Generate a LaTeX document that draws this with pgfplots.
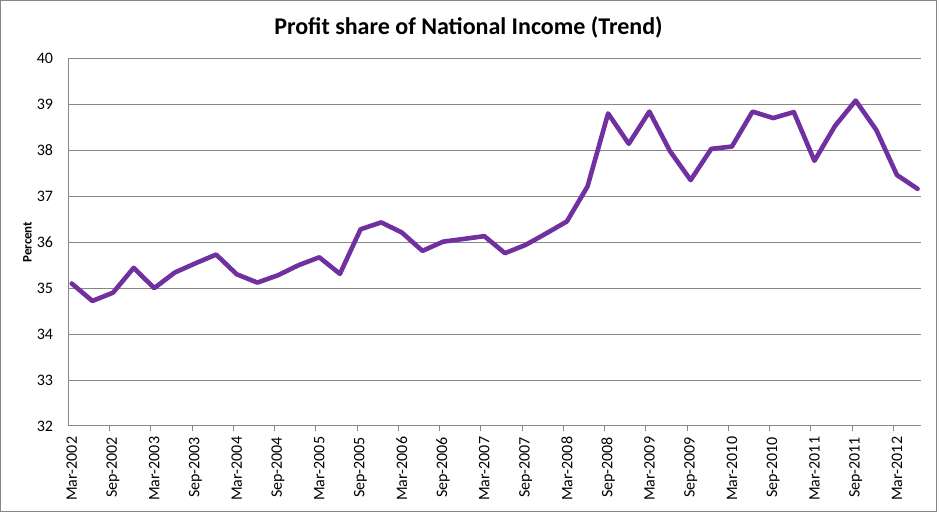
\documentclass[border=0pt]{standalone}
\usepackage{pgfplots}
\pgfplotsset{compat=1.18}
\usepackage{fontspec}
\setmainfont{Carlito}
\definecolor{linepurple}{HTML}{7030A0}
\definecolor{gridgray}{HTML}{868686}

% Quarterly trend of the profit share; x is months since Mar-2002
\begin{document}
\begin{tikzpicture}
\begin{axis}[
  scale only axis,
  width=852.7pt, height=367.7pt,
  xmin=-0.5, xmax=123.5,
  ymin=32, ymax=40,
  ytick={32,33,...,40},
  xtick={0,6,...,120},
  xticklabels={Mar-2002,Sep-2002,Mar-2003,Sep-2003,Mar-2004,Sep-2004,Mar-2005,Sep-2005,Mar-2006,Sep-2006,Mar-2007,Sep-2007,Mar-2008,Sep-2008,Mar-2009,Sep-2009,Mar-2010,Sep-2010,Mar-2011,Sep-2011,Mar-2012},
  minor xtick={5.5,11.5,...,119.5},
  major tick length=0pt,
  minor tick length=5pt,
  tick align=outside,
  axis x line*=bottom,
  axis y line*=left,
  axis line style={gridgray, line width=1pt},
  every tick/.style={gridgray, line width=1pt},
  ymajorgrids,
  major grid style={gridgray, line width=1pt},
  /pgf/number format/assume math mode=true,
  tick label style={font=\fontsize{16}{19}\selectfont},
  yticklabel style={inner sep=0pt, anchor=east},
  yticklabel shift=15pt,
  xticklabel style={inner sep=0pt, rotate=90, anchor=east},
  xticklabel shift=10.7pt,
  ylabel={Percent},
  ylabel style={at={(axis description cs:-0.0478,0.5)}, anchor=center, rotate=0, font=\fontsize{13}{15}\bfseries\selectfont},
]
\addplot[linepurple, line width=4.6pt, line join=round, line cap=round] coordinates {
  (0,35.10) (3,34.72) (6,34.90) (9,35.44) (12,35.00) (15,35.34)
  (18,35.54) (21,35.73) (24,35.30) (27,35.12) (30,35.28) (33,35.50)
  (36,35.67) (39,35.31) (42,36.28) (45,36.43) (48,36.21) (51,35.81)
  (54,36.01) (57,36.07) (60,36.13) (63,35.76) (66,35.94) (69,36.19)
  (72,36.45) (75,37.21) (78,38.80) (81,38.14) (84,38.84) (87,37.98)
  (90,37.35) (93,38.03) (96,38.08) (99,38.84) (102,38.70) (105,38.83)
  (108,37.77) (111,38.53) (114,39.08) (117,38.44) (120,37.46) (123,37.16)
};
\end{axis}
% chart title, centred on the frame
\node[anchor=base, inner sep=0pt, font=\fontsize{24}{28}\bfseries\selectfont]
  at ([xshift=-26.2pt,yshift=24pt]current axis.north)
  {Profit share of National Income (Trend)};
% chart frame
\draw[gridgray, line width=1pt]
  ([xshift=-67.8pt,yshift=-85.5pt]current axis.south west)
  rectangle ([xshift=15.5pt,yshift=57.8pt]current axis.north east);
\end{tikzpicture}
\end{document}
